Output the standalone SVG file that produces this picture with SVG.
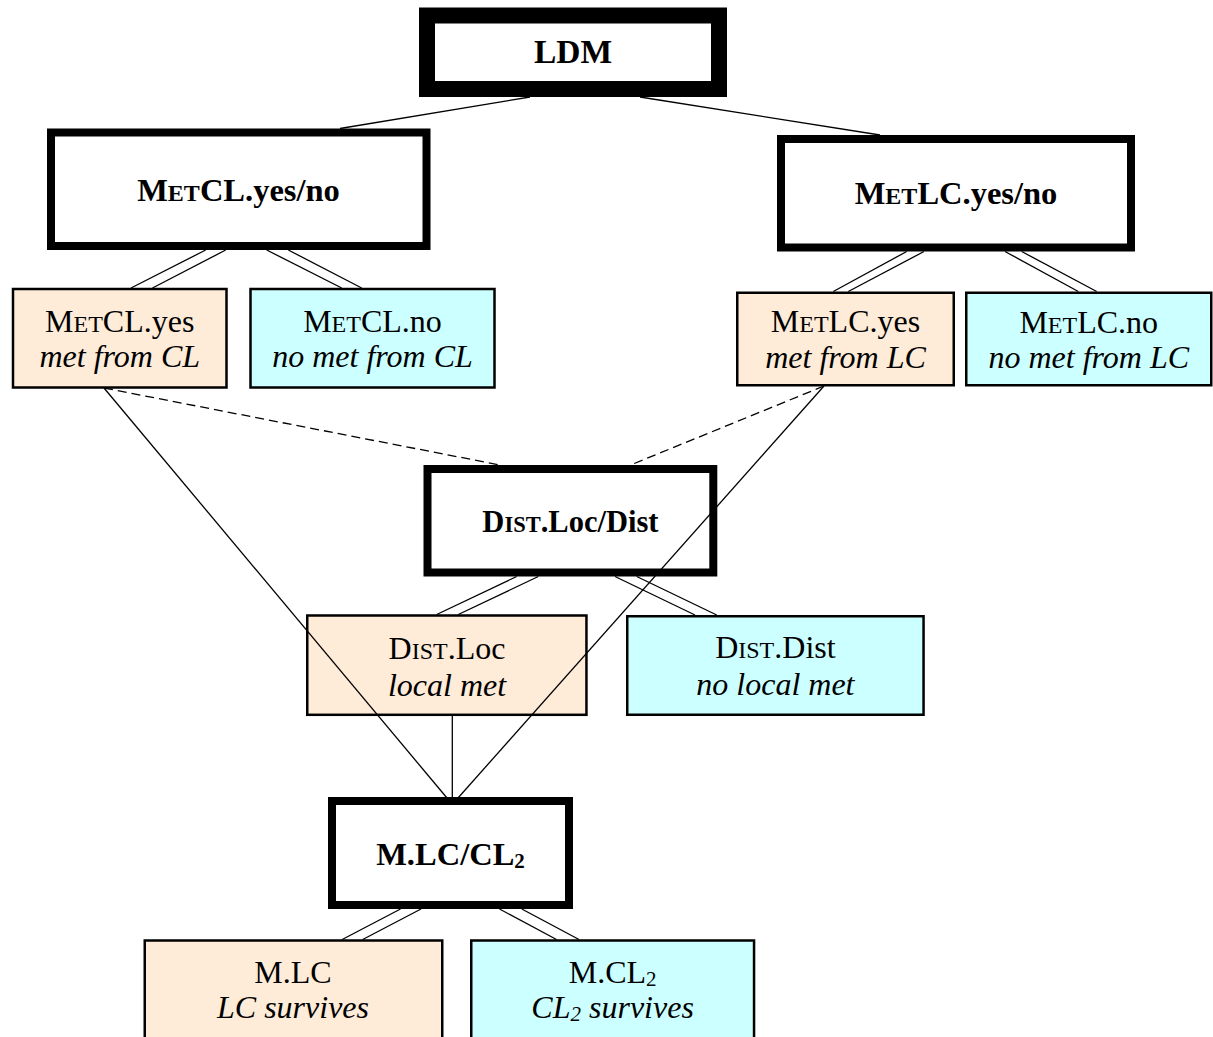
<svg xmlns="http://www.w3.org/2000/svg" width="1213" height="1037" viewBox="0 0 1213 1037">
<style>
.thick{fill:#fff;stroke:#000}
.peach{fill:#FEEBD8;stroke:#000;stroke-width:2.5}
.cyan{fill:#CCFFFF;stroke:#000;stroke-width:2.5}
.t{font-family:"Liberation Serif","Times New Roman",serif;font-size:32px;fill:#000;text-anchor:middle}
.b{font-weight:bold;font-size:32.5px}
.i{font-style:italic}
.sc{font-size:24px}
.bsc{font-size:24px}
.sub{font-size:21px}
#connectors line{stroke:#000;stroke-width:1.3;fill:none}
#connectors .dash{stroke-dasharray:9 5}
</style>
<rect width="1213" height="1037" fill="#fff"/>
<g id="n-ldm">
<rect class="thick" x="427" y="15.5" width="292" height="73.5" stroke-width="16"/>
<text class="t b" x="573" y="63" style="font-size:33.5px">LDM</text>
</g>
<g id="n-metcl">
<rect class="thick" x="51" y="132.5" width="375.5" height="113.5" stroke-width="8"/>
<text class="t b" x="238.5" y="201">M<tspan class="bsc">ET</tspan>CL.yes/no</text>
</g>
<g id="n-metlc">
<rect class="thick" x="781" y="139" width="350" height="108.5" stroke-width="8"/>
<text class="t b" x="956" y="204">M<tspan class="bsc">ET</tspan>LC.yes/no</text>
</g>
<g id="n-metcl-yes">
<rect class="peach" x="13" y="289" width="213.5" height="98.5"/>
<text class="t" x="119.75" y="332">M<tspan class="sc">ET</tspan>CL.yes</text>
<text class="t i" x="119.75" y="367">met from CL</text>
</g>
<g id="n-metcl-no">
<rect class="cyan" x="250.5" y="289" width="244" height="98.5"/>
<text class="t" x="372.5" y="332">M<tspan class="sc">ET</tspan>CL.no</text>
<text class="t i" x="372.5" y="367">no met from CL</text>
</g>
<g id="n-metlc-yes">
<rect class="peach" x="737.25" y="292.75" width="216.5" height="92.5"/>
<text class="t" x="845.5" y="332">M<tspan class="sc">ET</tspan>LC.yes</text>
<text class="t i" x="845.5" y="368">met from LC</text>
</g>
<g id="n-metlc-no">
<rect class="cyan" x="966.25" y="292.75" width="245" height="92.5"/>
<text class="t" x="1088.75" y="333">M<tspan class="sc">ET</tspan>LC.no</text>
<text class="t i" x="1088.75" y="368">no met from LC</text>
</g>
<g id="n-dist">
<rect class="thick" x="427.5" y="469" width="285.8" height="103.5" stroke-width="8"/>
<text class="t b" x="570.4" y="532" style="font-size:30.5px">D<tspan style="font-size:22.5px">IST</tspan>.Loc/Dist</text>
</g>
<g id="n-dist-loc">
<rect class="peach" x="307.25" y="615.5" width="279.2" height="99.3"/>
<text class="t" x="447" y="659">D<tspan class="sc">IST</tspan>.Loc</text>
<text class="t i" x="447" y="696">local met</text>
</g>
<g id="n-dist-dist">
<rect class="cyan" x="627.25" y="616.25" width="296.3" height="98.5"/>
<text class="t" x="775.4" y="658">D<tspan class="sc">IST</tspan>.Dist</text>
<text class="t i" x="775.4" y="695">no local met</text>
</g>
<g id="n-m">
<rect class="thick" x="332" y="801" width="237" height="104" stroke-width="8"/>
<text class="t b" x="450.5" y="865">M.LC/CL<tspan class="sub" dy="3">2</tspan></text>
</g>
<g id="n-m-lc">
<rect class="peach" x="144.75" y="940.5" width="297.5" height="120"/>
<text class="t" x="293" y="983">M.LC</text>
<text class="t i" x="293" y="1018">LC survives</text>
</g>
<g id="n-m-cl2">
<rect class="cyan" x="471.25" y="940.5" width="282.8" height="120"/>
<text class="t" x="612.6" y="983">M.CL<tspan class="sub" dy="3">2</tspan></text>
<text class="t i" x="612.6" y="1018">CL<tspan class="sub" dy="3">2</tspan><tspan dy="-3"> survives</tspan></text>
</g>
<g id="connectors">
<line x1="530" y1="97" x2="340" y2="128.5"/>
<line x1="640" y1="97" x2="880" y2="135"/>
<line x1="205.7" y1="250" x2="131" y2="288"/>
<line x1="225.7" y1="250" x2="152.5" y2="288"/>
<line x1="266.7" y1="250" x2="341.7" y2="288"/>
<line x1="288.3" y1="250" x2="361.7" y2="288"/>
<line x1="906.7" y1="251.5" x2="833.3" y2="291.5"/>
<line x1="924" y1="251.5" x2="848.3" y2="291.5"/>
<line x1="1005" y1="251.5" x2="1078.3" y2="291.5"/>
<line x1="1021.7" y1="251.5" x2="1096.7" y2="291.5"/>
<line class="dash" x1="104" y1="388" x2="500" y2="465"/>
<line class="dash" x1="824" y1="386" x2="630.5" y2="465"/>
<line x1="104" y1="388" x2="447" y2="798"/>
<line x1="824" y1="386" x2="458" y2="798"/>
<line x1="516.7" y1="576.5" x2="436.7" y2="614.5"/>
<line x1="538.3" y1="576.5" x2="458.3" y2="614.5"/>
<line x1="615" y1="576.5" x2="695" y2="615"/>
<line x1="636.7" y1="576.5" x2="716.7" y2="615"/>
<line x1="452.3" y1="716" x2="452.3" y2="798"/>
<line x1="400.5" y1="909" x2="342.2" y2="939.5"/>
<line x1="421" y1="909" x2="362.7" y2="939.5"/>
<line x1="499.5" y1="909" x2="556.5" y2="939.5"/>
<line x1="521.8" y1="909" x2="579" y2="939.5"/>
</g>
</svg>
